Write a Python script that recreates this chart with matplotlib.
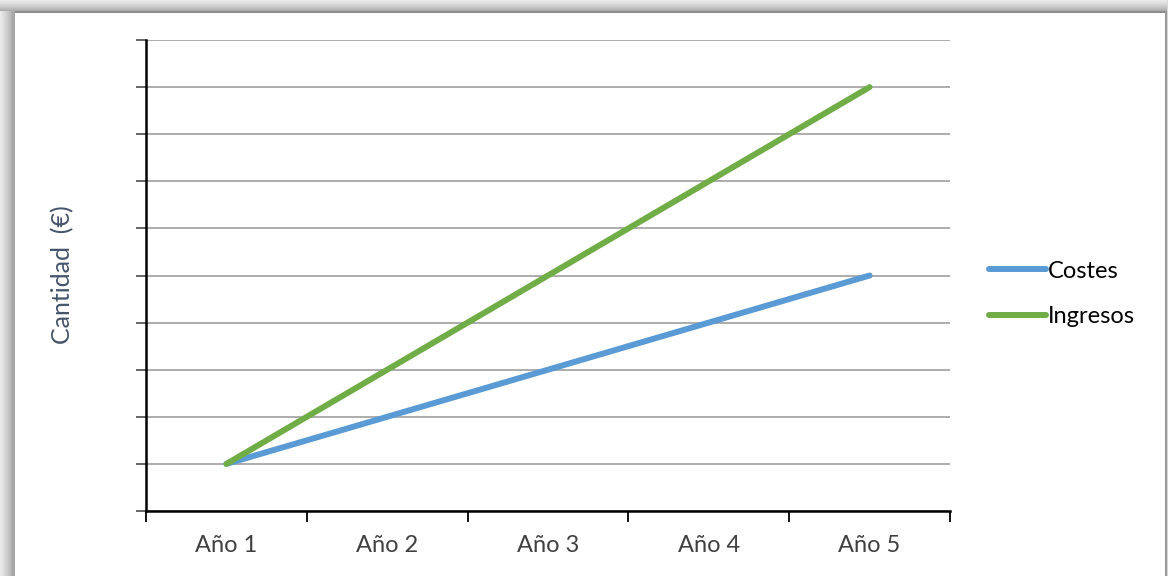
import numpy as np
import matplotlib
matplotlib.use("Agg")
import matplotlib.pyplot as plt
from matplotlib.lines import Line2D

years = ["Año 1", "Año 2", "Año 3", "Año 4", "Año 5"]
costes = [1, 2, 3, 4, 5]
ingresos = [1, 3, 5, 7, 9]
series_names = ["Costes", "Ingresos"]
series_colors = ["#5B9BD5", "#70AD47"]

FONT = "Lato"
W, H = 1168, 576
fig = plt.figure(figsize=(W / 100, H / 100), dpi=100)
fig.patch.set_facecolor("white")

# Shaded frame around the chart area
bg = fig.add_axes([0, 0, 1, 1], zorder=-10)
bg.set_xlim(0, W)
bg.set_ylim(H, 0)
bg.axis("off")
img = np.ones((H, W, 3))
left_w, top_h = 13, 11
for i in range(left_w):
    v = 0.62 + 0.30 * (1 - i / left_w) ** 0.7
    img[top_h:, i, :] = v
for j in range(top_h):
    v = 0.62 + 0.30 * (1 - j / top_h) ** 0.7
    img[j, :, :] = np.minimum(img[j, :, :], v)
img[top_h:top_h + 2, left_w:, :] = 0.55
img[top_h:, left_w:left_w + 2, :] = 0.65
img[top_h:, W - 3:W - 1, :] = 0.6
img[:, W - 1, :] = 0.85
bg.imshow(img, extent=(0, W, H, 0), aspect="auto", interpolation="nearest")

ax = fig.add_axes([146 / W, 1 - 511 / H, (950 - 146) / W, (511 - 40) / H])
x = np.arange(len(years))
ax.plot(x, costes, color=series_colors[0], lw=4.3, solid_capstyle="round", zorder=3)
ax.plot(x, ingresos, color=series_colors[1], lw=4.3, solid_capstyle="round", zorder=4)

ax.set_xlim(-0.5, len(years) - 0.5)
ax.set_ylim(0, 10)
ax.set_yticks(np.arange(0, 11))
ax.set_yticklabels([])
ax.yaxis.grid(True, color="#A6A6A6", lw=1.3)
ax.set_axisbelow(True)
ax.tick_params(axis="y", length=7, width=1.3, color="#595959", direction="out")

ax.set_xticks(np.arange(-0.5, len(years), 1.0))
ax.set_xticklabels([])
ax.set_xticks(x, minor=True)
ax.set_xticklabels(years, minor=True, fontsize=17, color="#404040", family=FONT)
ax.tick_params(axis="x", which="major", length=8, width=1.3, color="black", direction="out")
ax.tick_params(axis="x", which="minor", length=0, pad=17)

for s in ["top", "right"]:
    ax.spines[s].set_visible(False)
for s in ["left", "bottom"]:
    ax.spines[s].set_linewidth(1.8)
    ax.spines[s].set_color("black")

fig.text(63 / W, 1 - 275 / H, "Cantidad  (€)", rotation=90, ha="center", va="center",
         fontsize=18, color="#44546A", family=FONT)

handles = [Line2D([0], [0], color=c, lw=4.3, solid_capstyle="round") for c in series_colors]
fig.legend(handles, series_names, loc="center left", bbox_to_anchor=(968 / W, 1 - 294 / H),
           frameon=False, handlelength=2.4, handletextpad=0.1,
           labelspacing=1.05, prop={"family": FONT, "size": 17})

fig.savefig("out.png", dpi=100)
